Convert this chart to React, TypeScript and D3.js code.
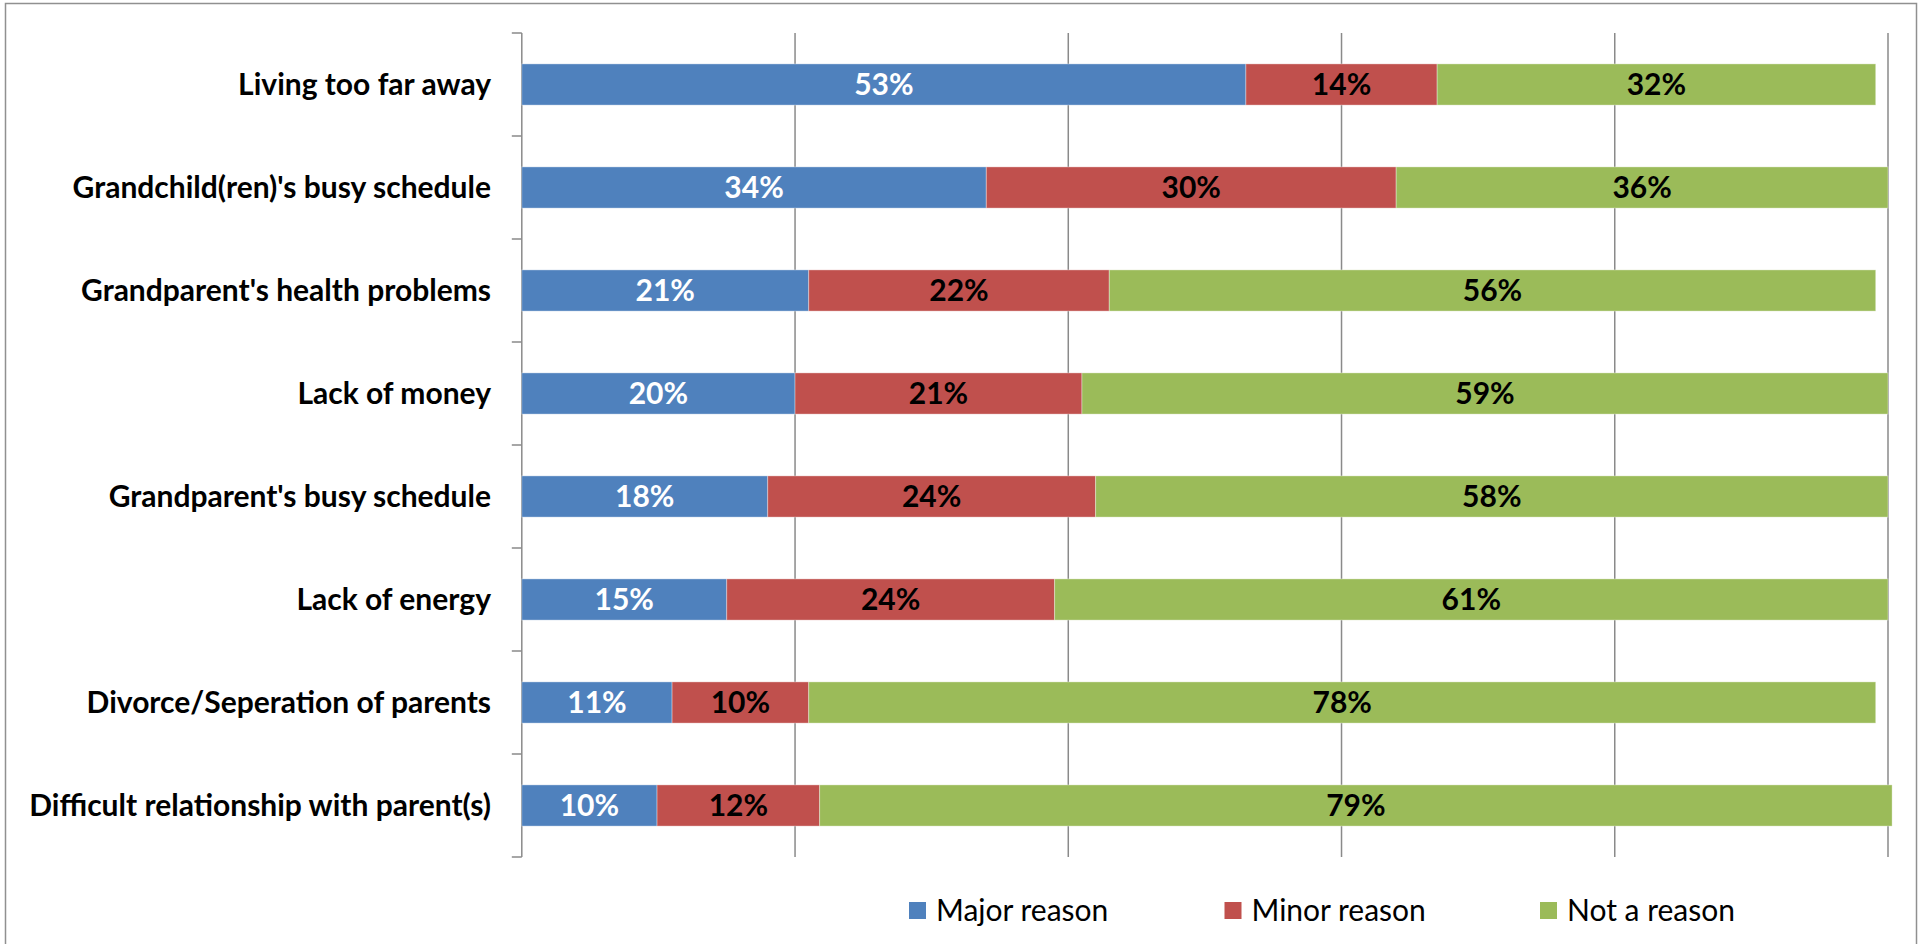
import React from 'react';
import * as d3 from 'd3';

const categories = [
  "Living too far away",
  "Grandchild(ren)'s busy schedule",
  "Grandparent's health problems",
  "Lack of money",
  "Grandparent's busy schedule",
  "Lack of energy",
  "Divorce/Seperation of parents",
  "Difficult relationship with parent(s)",
];
const majorReason = [53, 34, 21, 20, 18, 15, 11, 9.9];
const minorReason = [14, 30, 22, 21, 24, 24, 10, 11.9];
const notAReason = [32.1, 36, 56.1, 59, 58, 61, 78.1, 78.5];
const seriesKeys = ["major", "minor", "not"];
const seriesNames = ["Major reason", "Minor reason", "Not a reason"];
const seriesColors = ["#4F81BD", "#C0504D", "#9BBB59"];
const labelColors = ["#FFFFFF", "#000000", "#000000"];
const xTicks = [0, 20, 40, 60, 80, 100];

const W = 1925;
const H = 944;
const FONT = "Lato, 'Open Sans', sans-serif";

export default function App() {
  const x = d3.scaleLinear().domain([0, 100]).range([521.8, 1888]);
  const y = d3
    .scaleBand<string>()
    .domain(categories)
    .range([33, 857])
    .paddingInner(0.6)
    .paddingOuter(0.3);
  const step = y.step();
  const rows = categories.map((c, i) => ({
    cat: c,
    major: majorReason[i],
    minor: minorReason[i],
    not: notAReason[i],
  }));
  const stacked = d3.stack<any>().keys(seriesKeys)(rows);
  const top = y.range()[0];
  const bottom = y.range()[1];
  const boundaries = d3.range(categories.length + 1).map((i) => top + i * step);
  const x0 = x(0);
  const gridColor = "#8a8a8a";

  return (
    <div style={{ position: "absolute", left: 0, top: 0 }}>
      <svg width={W} height={H} style={{ display: "block", fontFamily: FONT }}>
        <rect x={0} y={0} width={W} height={H} fill="#fff" />
        <rect x={5.5} y={3.5} width={1911} height={1000} fill="none" stroke="#909090" strokeWidth={1.5} />
        {xTicks.filter((t) => t !== 0).map((t) => (
          <line key={t} x1={x(t)} x2={x(t)} y1={top} y2={bottom} stroke={gridColor} strokeWidth={1.5} />
        ))}
        <line x1={x0} x2={x0} y1={top} y2={bottom} stroke={gridColor} strokeWidth={1.5} />
        {boundaries.map((b, i) => (
          <line key={i} x1={x0 - 10} x2={x0} y1={b} y2={b} stroke={gridColor} strokeWidth={1.5} />
        ))}
        {stacked.map((s, si) => (
          <g key={s.key}>
            {s.map((d: any, i: number) => (
              <rect
                key={i}
                x={x(d[0])}
                y={y(d.data.cat)}
                width={x(d[1]) - x(d[0])}
                height={y.bandwidth()}
                fill={seriesColors[si]}
                stroke="rgba(255,255,255,0.35)"
                strokeWidth={1}
              />
            ))}
            {s.map((d: any, i: number) => (
              <text
                key={"t" + i}
                x={(x(d[0]) + x(d[1])) / 2}
                y={(y(d.data.cat) as number) + y.bandwidth() / 2}
                dy="0.36em"
                textAnchor="middle"
                fontWeight="bold"
                fontSize={30}
                fill={labelColors[si]}
              >
                {Math.round(d[1] - d[0])}%
              </text>
            ))}
          </g>
        ))}
        {categories.map((c) => (
          <text
            key={c}
            x={491}
            y={(y(c) as number) + y.bandwidth() / 2}
            dy="0.36em"
            textAnchor="end"
            fontWeight="bold"
            fontSize={30}
            fill="#000"
          >
            {c}
          </text>
        ))}
        {seriesNames.map((n, i) => {
          const lx = 909 + i * 315.5;
          return (
            <g key={n}>
              <rect x={lx} y={902} width={17} height={17} fill={seriesColors[i]} />
              <text x={lx + 27} y={910.5} dy="0.36em" fontSize={30} fill="#000">
                {n}
              </text>
            </g>
          );
        })}
      </svg>
    </div>
  );
}
